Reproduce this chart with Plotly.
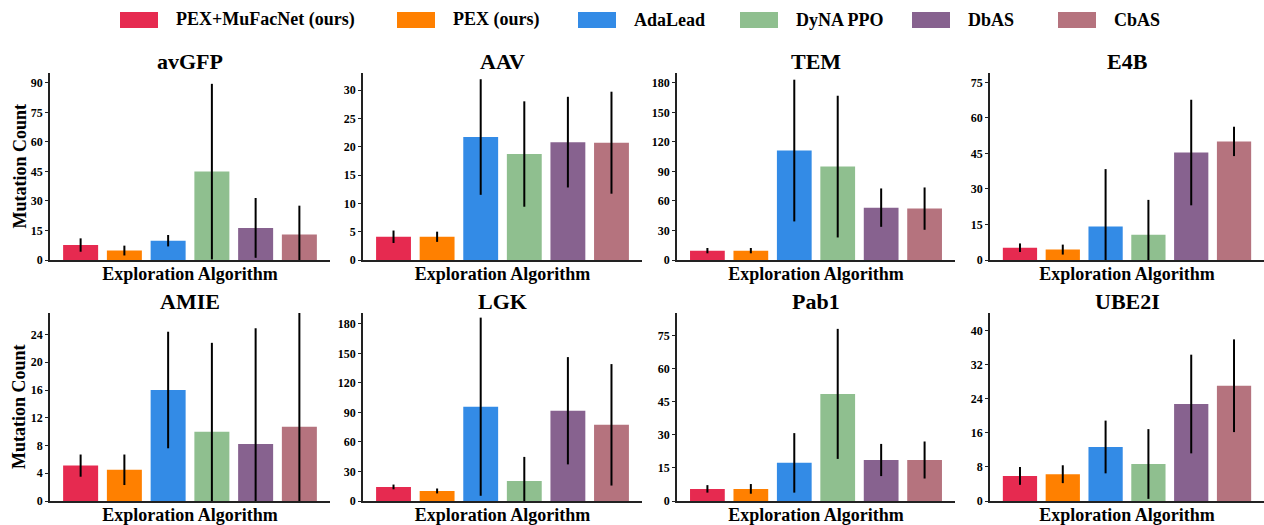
import plotly.graph_objects as go

# Exploration algorithms compared in every panel
methods = ["PEX+MuFacNet (ours)", "PEX (ours)", "AdaLead", "DyNA PPO", "DbAS", "CbAS"]
colors = ["#E62A50", "#FF8000", "#338BE6", "#8FBF8F", "#87628F", "#B5737E"]

# Mean mutation count and spread per protein task (order follows `methods`)
proteins = ["avGFP", "AAV", "TEM", "E4B", "AMIE", "LGK", "Pab1", "UBE2I"]

avgfp_mean = [7.6, 4.8, 9.8, 44.9, 16.3, 12.9]
avgfp_err = [3.4, 2.5, 2.9, 44.6, 15.2, 14.7]

aav_mean = [4.1, 4.1, 21.7, 18.7, 20.8, 20.7]
aav_err = [1.1, 0.9, 10.2, 9.3, 8.0, 9.0]

tem_mean = [9.5, 9.5, 111.2, 94.9, 53.2, 52.2]
tem_err = [2.7, 2.7, 72.0, 72.0, 19.5, 21.5]

e4b_mean = [5.2, 4.4, 14.1, 10.7, 45.4, 50.1]
e4b_err = [1.8, 2.1, 24.3, 14.7, 22.3, 6.2]

amie_mean = [5.1, 4.5, 16.0, 10.0, 8.2, 10.7]
amie_err = [1.6, 2.2, 8.4, 12.8, 16.7, 18.0]

lgk_mean = [14.3, 10.2, 95.8, 20.4, 91.7, 77.4]
lgk_err = [2.4, 2.5, 90.5, 24.4, 54.5, 61.7]

pab1_mean = [5.5, 5.5, 17.3, 48.6, 18.6, 18.6]
pab1_err = [1.7, 2.2, 13.5, 29.5, 7.3, 8.4]

ube2i_mean = [5.9, 6.3, 12.7, 8.7, 22.8, 27.1]
ube2i_err = [2.1, 2.1, 6.2, 8.2, 11.6, 10.9]

means = [avgfp_mean, aav_mean, tem_mean, e4b_mean, amie_mean, lgk_mean, pab1_mean, ube2i_mean]
errs = [avgfp_err, aav_err, tem_err, e4b_err, amie_err, lgk_err, pab1_err, ube2i_err]

# Axis extents and tick steps for each panel
y_max = [95, 33, 190, 79, 27.1, 191, 85.3, 44.2]
y_step = [15, 5, 30, 15, 4, 30, 15, 8]

W, H = 1264, 525
FONT = "Liberation Serif"
AXIS_COLOR = "#222222"

col_px = [(50, 330), (363, 642), (677, 955), (990, 1264)]
row_px = [(73, 260), (313, 501)]

fig = go.Figure()
layout = dict(
    width=W, height=H,
    margin=dict(l=0, r=0, t=0, b=0, autoexpand=False),
    paper_bgcolor="white", plot_bgcolor="white",
    showlegend=False,
    font=dict(family=FONT, color="black"),
)
annotations = []
shapes = []

for i, prot in enumerate(proteins):
    r, c = divmod(i, 4)
    n = i + 1
    xa = "x" if n == 1 else f"x{n}"
    ya = "y" if n == 1 else f"y{n}"
    x0, x1 = col_px[c]
    top, bot = row_px[r]
    xdom = [x0 / W, x1 / W]
    ydom = [1 - bot / H, 1 - top / H]

    fig.add_trace(go.Bar(
        x=methods, y=means[i],
        marker=dict(color=colors, line=dict(width=0)),
        error_y=dict(type="data", array=errs[i], color="black", thickness=2, width=0),
        width=0.8,
        xaxis=xa, yaxis=ya,
    ))

    layout["xaxis" if n == 1 else f"xaxis{n}"] = dict(
        domain=xdom, anchor=ya, type="category", automargin=False,
        categoryorder="array", categoryarray=methods,
        range=[-0.7, 5.7], showticklabels=False, ticks="",
        showline=True, linecolor=AXIS_COLOR, linewidth=1.5,
        showgrid=False, zeroline=False, fixedrange=True,
        title=dict(text="<b>Exploration Algorithm</b>", standoff=7,
                   font=dict(family=FONT, size=18, color="black")),
    )
    layout["yaxis" if n == 1 else f"yaxis{n}"] = dict(
        domain=ydom, anchor=xa, range=[0, y_max[i]], automargin=False,
        tick0=0, dtick=y_step[i], ticks="outside", ticklen=3, tickwidth=1.2,
        tickcolor=AXIS_COLOR,
        showline=True, linecolor=AXIS_COLOR, linewidth=1.5,
        showgrid=False, zeroline=False, fixedrange=True,
        tickfont=dict(family=FONT, size=12, color="black", weight="bold"),
    )

    # Panel title
    annotations.append(dict(
        text=f"<b>{prot}</b>", xref="paper", yref="paper",
        x=(xdom[0] + xdom[1]) / 2, y=ydom[1], xanchor="center", yanchor="bottom",
        yshift=-3, showarrow=False, font=dict(family=FONT, size=22, color="black"),
    ))
    # Shared y-axis label on the left column
    if c == 0:
        annotations.append(dict(
            text="<b>Mutation Count</b>", xref="paper", yref="paper",
            x=19 / W, y=(ydom[0] + ydom[1]) / 2, xanchor="center", yanchor="middle",
            textangle=-90, showarrow=False,
            font=dict(family=FONT, size=18, color="black"),
        ))

# Legend row across the top
legend_x = [120, 397, 578, 740, 912, 1058]
for name, col, lx in zip(methods, colors, legend_x):
    shapes.append(dict(
        type="rect", xref="paper", yref="paper",
        x0=lx / W, x1=(lx + 38) / W, y0=1 - 28 / H, y1=1 - 12 / H,
        fillcolor=col, line=dict(width=0),
    ))
    annotations.append(dict(
        text=f"<b>{name}</b>", xref="paper", yref="paper",
        x=(lx + 54) / W, y=1 - 20 / H, xanchor="left", yanchor="middle",
        showarrow=False, font=dict(family=FONT, size=18, color="black"),
    ))

layout["annotations"] = annotations
layout["shapes"] = shapes
fig.update_layout(**layout)
fig.write_html("out.html")
